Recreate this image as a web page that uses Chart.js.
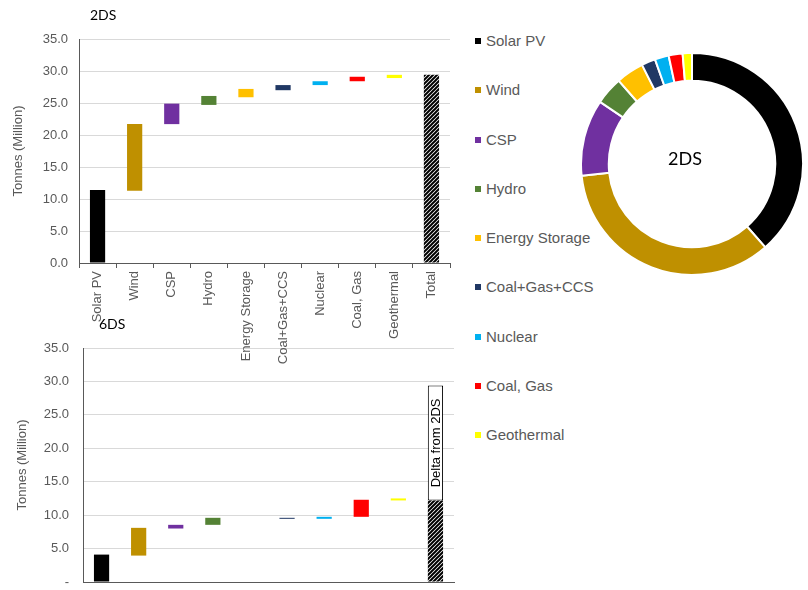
<!DOCTYPE html>
<html>
<head>
<meta charset="utf-8">
<script src="https://cdn.jsdelivr.net/npm/chart.js@4"></script>
<style>
  html, body { margin: 0; padding: 0; background: #fff; overflow: hidden; }
  body { width: 808px; height: 590px; position: relative; }
  canvas { position: absolute; }
  #chart2ds { left: 0; top: 0; z-index: 2; }
  #chart6ds { left: 0; top: 315px; z-index: 1; }
  #donut { left: 580px; top: 52px; z-index: 1; }
  .tag { position: absolute; font-family: Lato, "Open Sans", sans-serif; color: #000; z-index: 3; white-space: nowrap; }
  .legend-item { position: absolute; left: 475px; height: 18px; line-height: 18px;
    font-family: "Liberation Sans", Arial, sans-serif; font-size: 15px; color: #595959; white-space: nowrap; }
  .legend-item i { display: inline-block; width: 6px; height: 6px; margin-right: 5px; vertical-align: 2px; }
</style>
</head>
<body>
<div class="tag" style="left:90px; top:6px; font-size:14px; line-height:18px;">2DS</div>
<div class="tag" style="left:99px; top:315px; font-size:14px; line-height:18px;">6DS</div>
<div class="tag" style="left:668px; top:147px; font-size:18px; line-height:22px; z-index:2;">2DS</div>
<canvas id="chart2ds" width="460" height="380"></canvas>
<canvas id="chart6ds" width="460" height="290"></canvas>
<canvas id="donut" width="224" height="224"></canvas>
<div id="legend"></div>
<script>
const categories = ['Solar PV', 'Wind', 'CSP', 'Hydro', 'Energy Storage', 'Coal+Gas+CCS', 'Nuclear', 'Coal, Gas', 'Geothermal', 'Total'];
const techColors = ['#000000', '#BF9000', '#7030A0', '#548235', '#FFC000', '#203864', '#00B0F0', '#FF0000', '#FFFF00'];

// waterfall steps, bottom and top of each floating bar (million tonnes)
const low2DS = [0, 11.3, 21.7, 24.7, 25.9, 27.0, 27.8, 28.4, 28.9, 0];
const high2DS = [11.4, 21.7, 24.9, 26.1, 27.2, 27.8, 28.4, 29.1, 29.4, 29.4];
const low6DS = [0, 3.95, 8.0, 8.55, null, 9.45, 9.45, 9.75, 12.2, 0];
const high6DS = [4.1, 8.1, 8.55, 9.6, null, 9.6, 9.75, 12.3, 12.5, 12.2];
// gap between the 6DS total and the 2DS total
const deltaLow = 12.2;
const deltaHigh = 29.4;

// 2DS share by technology for the ring
const share2DS = [11.4, 10.3, 3.3, 1.2, 1.2, 0.6, 0.6, 0.6, 0.4];

const yMin = 0, yMax = 35, yStep = 5;

Chart.defaults.font.family = '"Liberation Sans", Arial, sans-serif';
Chart.defaults.color = '#595959';

function hatchPattern() {
  const tile = document.createElement('canvas');
  tile.width = 4; tile.height = 4;
  const g = tile.getContext('2d');
  g.fillStyle = '#fff';
  g.fillRect(0, 0, 4, 4);
  g.strokeStyle = '#000';
  g.lineWidth = 2;
  g.beginPath();
  g.moveTo(-1, 5); g.lineTo(5, -1);
  g.moveTo(-1, 1); g.lineTo(1, -1);
  g.moveTo(3, 5); g.lineTo(5, 3);
  g.stroke();
  return g.createPattern(tile, 'repeat');
}
const hatch = hatchPattern();

function toRanges(lo, hi) {
  return lo.map((v, i) => (v == null ? null : [v, hi[i]]));
}

function scalesFor(o) {
  return {
    x: {
      offset: true,
      grid: { display: true, drawOnChartArea: false, drawTicks: o.showLabels, tickLength: 5, color: '#595959' },
      border: { color: '#595959' },
      ticks: {
        display: o.showLabels, autoSkip: false, minRotation: 90, maxRotation: 90,
        padding: 3, color: '#595959', font: { size: 13 }
      },
      afterFit: s => { s.height = o.xHeight; }
    },
    y: {
      min: yMin, max: yMax,
      ticks: {
        stepSize: yStep, padding: o.tickPad, color: '#595959', font: { size: 13 },
        callback: v => (v === 0 && o.dashZero ? '-' : v.toFixed(1))
      },
      grid: { color: '#d9d9d9', drawTicks: false },
      border: { color: '#595959' },
      title: {
        display: true, text: 'Tonnes (Million)', color: '#595959',
        font: { size: 13 }, padding: { top: o.titlePad, bottom: 0 }
      },
      afterFit: s => { s.width = o.yWidth; }
    }
  };
}

const barStyle = { barPercentage: 0.41, categoryPercentage: 1, borderWidth: 0, borderSkipped: false, grouped: false };

new Chart(document.getElementById('chart2ds'), {
  type: 'bar',
  data: {
    labels: categories,
    datasets: [{
      label: '2DS',
      data: toRanges(low2DS, high2DS),
      backgroundColor: [...techColors, hatch],
      ...barStyle
    }]
  },
  options: {
    responsive: false,
    animation: false,
    layout: { padding: { top: 39, right: 10, left: 0, bottom: 0 } },
    plugins: { legend: { display: false }, tooltip: { enabled: false } },
    scales: scalesFor({ showLabels: true, xHeight: 117, yWidth: 79, tickPad: 11, titlePad: 11, dashZero: false })
  }
});

const deltaLabel = {
  id: 'deltaLabel',
  afterDatasetsDraw(chart) {
    const bar = chart.getDatasetMeta(1).data[categories.length - 1];
    if (!bar) return;
    const ctx = chart.ctx;
    ctx.save();
    ctx.translate(bar.x, (bar.y + bar.base) / 2);
    ctx.rotate(-Math.PI / 2);
    ctx.font = '13px "Liberation Sans", Arial, sans-serif';
    ctx.fillStyle = '#000';
    ctx.textAlign = 'center';
    ctx.textBaseline = 'middle';
    ctx.fillText('Delta from 2DS', 0, 1);
    ctx.restore();
  }
};

// the lower panel runs past the bottom edge, so its category labels are cut off
new Chart(document.getElementById('chart6ds'), {
  type: 'bar',
  data: {
    labels: categories,
    datasets: [{
      label: '6DS',
      data: toRanges(low6DS, high6DS),
      backgroundColor: [...techColors, hatch],
      ...barStyle
    }, {
      label: 'Delta from 2DS',
      data: categories.map((c, i) => (i === categories.length - 1 ? [deltaLow, deltaHigh] : null)),
      ...barStyle,
      backgroundColor: '#fff',
      borderColor: '#000',
      borderWidth: 1
    }]
  },
  options: {
    responsive: false,
    animation: false,
    layout: { padding: { top: 33, right: 6, left: 0, bottom: 0 } },
    plugins: { legend: { display: false }, tooltip: { enabled: false } },
    scales: scalesFor({ showLabels: false, xHeight: 23, yWidth: 83, tickPad: 14, titlePad: 15, dashZero: true })
  },
  plugins: [deltaLabel]
});

new Chart(document.getElementById('donut'), {
  type: 'doughnut',
  data: {
    labels: categories.slice(0, techColors.length),
    datasets: [{
      data: share2DS,
      backgroundColor: techColors,
      borderColor: '#fff',
      borderWidth: 2
    }]
  },
  options: {
    responsive: false,
    animation: false,
    cutout: '75%',
    plugins: { legend: { display: false }, tooltip: { enabled: false } }
  }
});

// legend column for the ring
const legend = document.getElementById('legend');
techColors.forEach((c, i) => {
  const item = document.createElement('div');
  item.className = 'legend-item';
  item.style.top = (32 + i * 49.25) + 'px';
  item.innerHTML = '<i style="background:' + c + '"></i>' + categories[i];
  legend.appendChild(item);
});
</script>
</body>
</html>
